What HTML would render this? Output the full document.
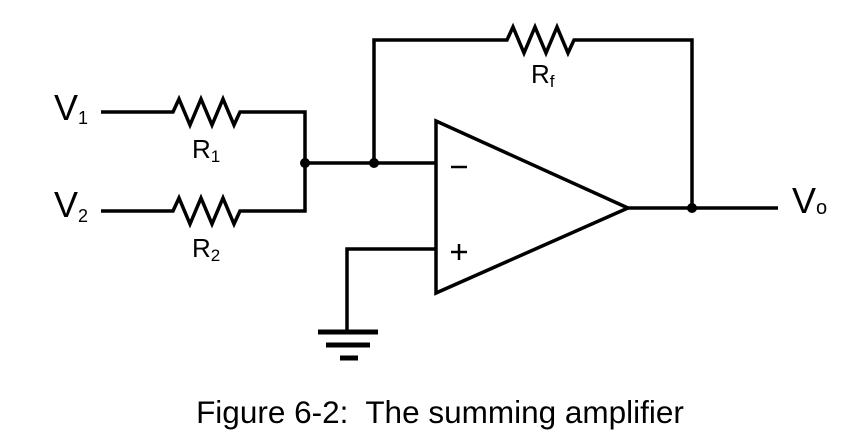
<!DOCTYPE html>
<html><head><meta charset="utf-8"><style>
html,body{margin:0;padding:0;background:#fff;width:854px;height:444px;overflow:hidden}
text{font-family:"Liberation Sans",sans-serif;fill:#000}
</style></head><body>
<svg width="854" height="444" viewBox="0 0 854 444" xmlns="http://www.w3.org/2000/svg">
<g fill="none" stroke="#000" stroke-width="3.5" stroke-linejoin="miter">
<polyline points="101,112 173,112 179,99 190,125 201,99 212,125 223,99 234,125 240,112 305,112 305,211 240,211 234,224 223,198 212,224 201,198 190,224 179,198 173,211 101,211"/>
<line x1="305" y1="163" x2="436" y2="163"/>
<polyline points="374,163 374,40 507,40 513,27 524,53 535,27 546,53 557,27 568,53 574,40 692,40 692,208"/>
<polygon points="436,121 436,293 628,208"/>
<line x1="628" y1="208" x2="778" y2="208"/>
<polyline points="436,249 347,249 347,332"/>
<line x1="451" y1="167" x2="467" y2="167" stroke-width="2.5"/>
<line x1="451" y1="252" x2="467" y2="252" stroke-width="2.5"/>
<line x1="459" y1="244" x2="459" y2="260" stroke-width="2.5"/>
</g>
<g stroke="#000" stroke-width="5">
<line x1="318" y1="332" x2="378" y2="332"/>
<line x1="326" y1="345" x2="370" y2="345"/>
<line x1="340" y1="358" x2="358" y2="358"/>
</g>
<g fill="#000">
<circle cx="305" cy="163" r="5"/>
<circle cx="374" cy="163" r="5"/>
<circle cx="692" cy="208" r="5"/>
</g>
<text x="54" y="120" font-size="36">V<tspan font-size="18" dx="0" dy="4">1</tspan></text>
<text x="54" y="217" font-size="36">V<tspan font-size="18" dx="0" dy="5">2</tspan></text>
<text x="192" y="158" font-size="26">R<tspan font-size="17" dy="4">1</tspan></text>
<text x="192" y="257" font-size="26">R<tspan font-size="17" dy="4">2</tspan></text>
<text x="531" y="83" font-size="26">R<tspan font-size="17" dy="4">f</tspan></text>
<text x="792" y="213" font-size="36">V<tspan font-size="20" dx="0" dy="1">o</tspan></text>
<text x="440" y="423" font-size="31.5" text-anchor="middle" xml:space="preserve">Figure 6-2:  The summing amplifier</text>
</svg>
</body></html>
